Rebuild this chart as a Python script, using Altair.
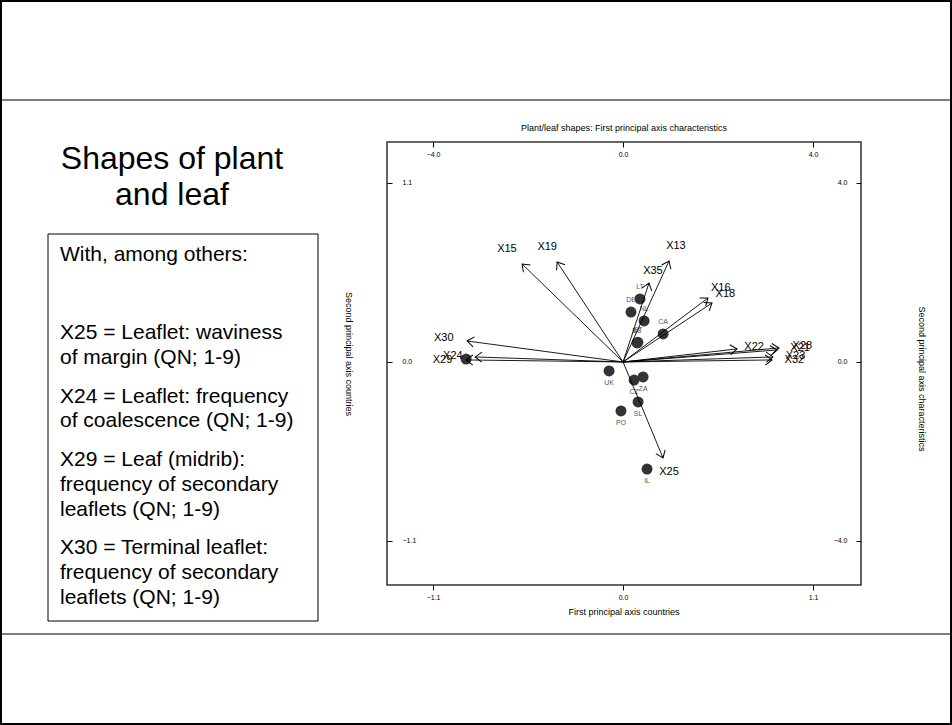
import math
import altair as alt
import pandas as pd

# ---------------- data ----------------
countries = ["LT", "DE", "NL", "BE", "ET", "CA", "UK", "CZ", "ZA", "SL", "PO", "IL", ""]
country_x = [0.098, 0.046, 0.122, 0.081, 0.086, 0.232, -0.081, 0.064, 0.116, 0.087, -0.012, 0.139, -0.909]
country_y = [0.387, 0.307, 0.252, 0.117, 0.121, 0.172, -0.055, -0.111, -0.092, -0.246, -0.301, -0.658, 0.018]

chars = ["X15", "X19", "X13", "X35", "X30", "X24", "X29", "X16", "X18",
         "X22", "X28", "X21", "X23", "X32", "X25"]
char_x = [-2.126, -1.389, 0.968, 0.547, -3.284, -3.116, -3.305, 1.789, 1.874,
          2.400, 3.284, 3.242, 3.158, 3.137, 0.842]
char_y = [2.190, 2.235, 2.257, 1.765, 0.469, 0.112, 0.045, 1.430, 1.318,
          0.291, 0.313, 0.268, 0.112, 0.045, -2.145]

country_ticks = [-1.1, 0.0, 1.1]
char_ticks = [-4.0, 0.0, 4.0]

slide_title = ["Shapes of plant", "and leaf"]
box_lines = ["With, among others:",
             "X25 = Leaflet: waviness", "of margin (QN; 1-9)",
             "X24 = Leaflet: frequency", "of coalescence (QN; 1-9)",
             "X29 = Leaf (midrib):", "frequency of secondary", "leaflets (QN; 1-9)",
             "X30 = Terminal leaflet:", "frequency of secondary", "leaflets (QN; 1-9)"]
box_line_y = [255, 333, 358, 397, 421, 460, 485, 510, 548, 573, 598]

plot_title = "Plant/leaf shapes: First principal axis characteristics"
x_title = "First principal axis countries"
y_title = "Second principal axis countries"
y2_title = "Second principal axis characteristics"

# ---------------- layout ----------------
W, H = 474, 443
PL, PT = 387, 142
CX_DOM = [-1.367, 1.378]
CY_DOM = [-1.371, 1.352]
F = 4.0 / 1.1
HX_DOM = [v * F for v in CX_DOM]
HY_DOM = [v * F for v in CY_DOM]
FONT = "Liberation Sans"

sx = W / (HX_DOM[1] - HX_DOM[0])
sy = H / (HY_DOM[1] - HY_DOM[0])
angles = [math.degrees(math.atan2(-y * sy, x * sx)) % 360 for x, y in zip(char_x, char_y)]

cdf = pd.DataFrame({"country": countries, "x": country_x, "y": country_y})
hdf = pd.DataFrame({"char": chars, "x": char_x, "y": char_y, "ang": angles})

axis_common = dict(title=None, grid=False, domain=False, tickSize=5, labelFontSize=7,
                   labelFont=FONT, labelColor="black", tickColor="black", format=".1f",
                   labelOverlap=False, labelFlush=False)

cx_scale = alt.Scale(domain=CX_DOM, nice=False, zero=False)
cy_scale = alt.Scale(domain=CY_DOM, nice=False, zero=False)
hx_scale = alt.Scale(domain=HX_DOM, nice=False, zero=False)
hy_scale = alt.Scale(domain=HY_DOM, nice=False, zero=False)

cx_axis = alt.Axis(orient="bottom", values=country_ticks, labelPadding=3, **axis_common)
cy_axis = alt.Axis(orient="left", offset=-5, values=country_ticks, labelPadding=-15,
                   labelAlign="left", labelBaseline="middle", **axis_common)
hx_axis = alt.Axis(orient="top", offset=-5, values=char_ticks, labelPadding=-12,
                   labelBaseline="middle", **axis_common)
hy_axis = alt.Axis(orient="right", offset=-5, values=char_ticks, labelPadding=-14,
                   labelAlign="right", labelBaseline="middle", **axis_common)

# ---------------- countries layer ----------------
pts = alt.Chart(cdf).mark_circle(size=120, color="#333333", opacity=1).encode(
    x=alt.X("x:Q", scale=cx_scale, axis=cx_axis),
    y=alt.Y("y:Q", scale=cy_scale, axis=cy_axis),
)
lab_up = alt.Chart(cdf).transform_filter("datum.y >= 0").mark_text(
    dy=-12, fontSize=7, font=FONT, color="#555555").encode(
    x=alt.X("x:Q", scale=cx_scale, axis=cx_axis),
    y=alt.Y("y:Q", scale=cy_scale, axis=cy_axis),
    text="country:N",
)
lab_dn = alt.Chart(cdf).transform_filter("datum.y < 0").mark_text(
    dy=12, fontSize=7, font=FONT, color="#555555").encode(
    x=alt.X("x:Q", scale=cx_scale, axis=cx_axis),
    y=alt.Y("y:Q", scale=cy_scale, axis=cy_axis),
    text="country:N",
)
country_layer = alt.layer(pts, lab_up, lab_dn)

# ---------------- characteristics layer ----------------
rules = alt.Chart(hdf).transform_calculate(x0="0", y0="0").mark_rule(
    color="black", strokeWidth=0.9).encode(
    x=alt.X("x:Q", scale=hx_scale, axis=hx_axis),
    y=alt.Y("y:Q", scale=hy_scale, axis=hy_axis),
    x2="x0:Q", y2="y0:Q",
)
heads = alt.Chart(hdf).mark_point(
    shape="M-1,-0.75L0,0L-1,0.75", filled=False, size=180, color="black",
    strokeWidth=1, opacity=1).encode(
    x=alt.X("x:Q", scale=hx_scale, axis=hx_axis),
    y=alt.Y("y:Q", scale=hy_scale, axis=hy_axis),
    angle=alt.Angle("ang:Q", scale=None),
)
hlabels = alt.Chart(hdf).transform_calculate(
    lx="datum.x * 1.15", ly="datum.y * 1.15").mark_text(
    fontSize=11, font=FONT, color="black").encode(
    x=alt.X("lx:Q", scale=hx_scale, axis=hx_axis),
    y=alt.Y("ly:Q", scale=hy_scale, axis=hy_axis),
    text="char:N",
)
char_layer = alt.layer(rules, heads, hlabels)

# ---------------- slide decorations ----------------
one = pd.DataFrame({"d": [0]})


def txt(s, x, y, size, **kw):
    return alt.Chart(one).mark_text(text=s, fontSize=size, font=FONT, color="black",
                                    baseline="middle", **kw).encode(
        x=alt.value(x), y=alt.value(y))


def hline(y):
    return alt.Chart(one).mark_rule(color="black", strokeWidth=1.2).encode(
        x=alt.value(-PL), x2=alt.value(952 - PL), y=alt.value(y - PT))


deco = [
    alt.Chart(one).mark_rect(fillOpacity=0, stroke="black", strokeWidth=2).encode(
        x=alt.value(-PL + 1), x2=alt.value(951 - PL), y=alt.value(-PT + 1), y2=alt.value(724 - PT)),
    hline(100), hline(634),
    alt.Chart(one).mark_rect(fillOpacity=0, stroke="black", strokeWidth=1).encode(
        x=alt.value(48 - PL), x2=alt.value(318 - PL), y=alt.value(234 - PT), y2=alt.value(621 - PT)),
    txt(slide_title[0], 172 - PL, 159 - PT, 32, align="center"),
    txt(slide_title[1], 172 - PL, 195 - PT, 32, align="center"),
    txt(plot_title, W / 2, 128 - PT, 9, align="center"),
    txt(x_title, W / 2, 612 - PT, 9, align="center"),
    txt(y_title, 349 - PL, 212, 9, align="center", angle=90),
    txt(y2_title, 922 - PL, 237, 9, align="center", angle=90),
]
for s, yy in zip(box_lines, box_line_y):
    deco.append(txt(s, 60 - PL, yy - PT, 21, align="left"))

deco_layer = alt.layer(*deco)

chart = alt.layer(country_layer, char_layer, deco_layer).resolve_scale(
    x="independent", y="independent"
).properties(
    width=W, height=H,
    autosize=alt.AutoSizeParams(type="none"),
    padding={"left": PL, "top": PT, "right": 952 - PL - W, "bottom": 725 - PT - H},
    background="white",
).configure_view(stroke="#333333", strokeWidth=1.5)

chart.save("out.html", embed_options={"renderer": "svg", "actions": False})
